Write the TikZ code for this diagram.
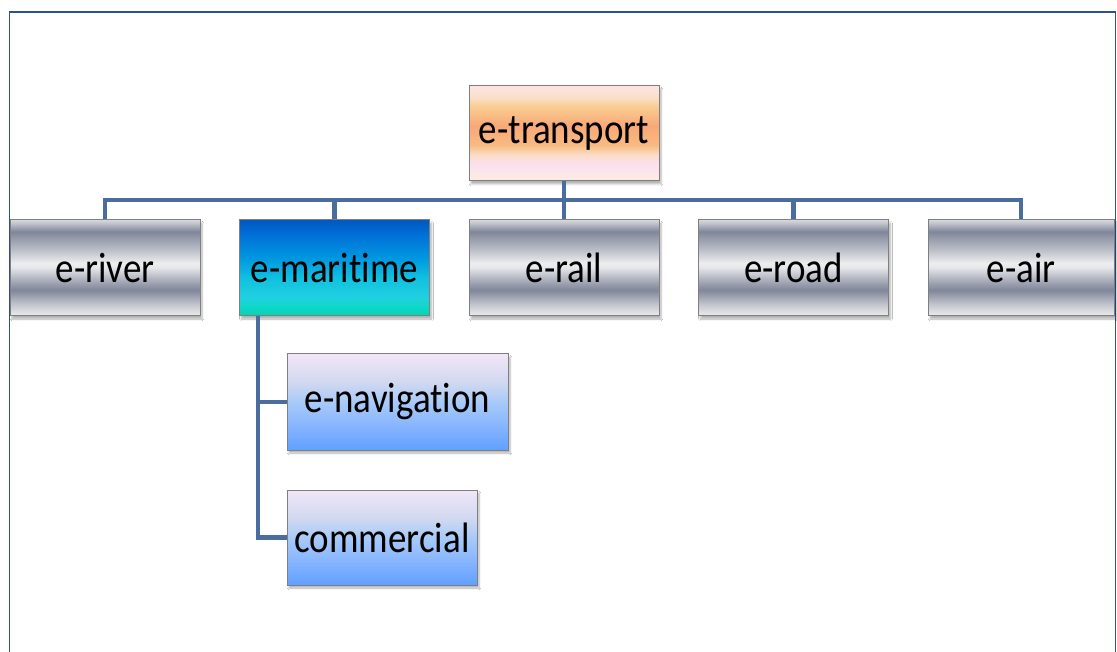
\documentclass[tikz,border=0pt]{standalone}
\usepackage{graphicx}
\usepackage{fontspec}
\setmainfont{Carlito}[Ligatures=NoCommon]
\usetikzlibrary{shadows.blur}
\definecolor{mA}{HTML}{EDEDEF}
\definecolor{mB}{HTML}{C4C6CE}
\definecolor{mC}{HTML}{80879A}
\definecolor{mD}{HTML}{A0A4B2}
\definecolor{mE}{HTML}{E4E5E9}
\definecolor{mF}{HTML}{EEEEF0}
\definecolor{mG}{HTML}{B8BBC5}
\definecolor{mH}{HTML}{D6D7DC}
\definecolor{sA}{HTML}{00D4B0}
\definecolor{sB}{HTML}{10D8C8}
\definecolor{sC}{HTML}{20D0E0}
\definecolor{sD}{HTML}{10C0E0}
\definecolor{sE}{HTML}{0098E0}
\definecolor{sF}{HTML}{0070D8}
\definecolor{sG}{HTML}{0058C0}
\definecolor{pA}{HTML}{FCECE0}
\definecolor{pB}{HTML}{FBE0F0}
\definecolor{pC}{HTML}{FADCC4}
\definecolor{pD}{HTML}{F9BA80}
\definecolor{pE}{HTML}{F8A878}
\definecolor{pF}{HTML}{F9CC90}
\definecolor{pG}{HTML}{FAE0C8}
\definecolor{pH}{HTML}{FDE4E2}
\definecolor{bA}{HTML}{60A0FF}
\definecolor{bB}{HTML}{80B0FF}
\definecolor{bC}{HTML}{A8CAF8}
\definecolor{bD}{HTML}{D0D8F0}
\definecolor{bE}{HTML}{F2E6F6}
\definecolor{framecol}{HTML}{2F5090}
\definecolor{conncol}{HTML}{4A6DA0}
\definecolor{edgecol}{HTML}{7F7F7F}
% shadings: 25bp = bottom, 75bp = top of the shaded box
\pgfdeclareverticalshading{metal}{100bp}{%
 color(0bp)=(mA); color(25bp)=(mA); color(31bp)=(mB); color(38.5bp)=(mC);
 color(42.5bp)=(mD); color(50bp)=(mE); color(52.5bp)=(mF); color(60bp)=(mG);
 color(69bp)=(mC); color(73.5bp)=(mB); color(75bp)=(mH); color(100bp)=(mH)}
\pgfdeclareverticalshading{seablue}{100bp}{%
 color(0bp)=(sA); color(25bp)=(sA); color(30bp)=(sB); color(35bp)=(sC);
 color(45bp)=(sD); color(55bp)=(sE); color(67.5bp)=(sF); color(75bp)=(sG); color(100bp)=(sG)}
\pgfdeclareverticalshading{peach}{100bp}{%
 color(0bp)=(pA); color(25bp)=(pA); color(34bp)=(pB); color(39bp)=(pC);
 color(44bp)=(pD); color(54bp)=(pE); color(64bp)=(pF); color(69bp)=(pG); color(75bp)=(pH); color(100bp)=(pH)}
\pgfdeclareverticalshading{skyblue}{100bp}{%
 color(0bp)=(bA); color(25bp)=(bA); color(35bp)=(bB); color(50bp)=(bC);
 color(60bp)=(bD); color(75bp)=(bE); color(100bp)=(bE)}
\newcommand\tallText[1]{\scalebox{1}[1.15]{#1}}
\tikzset{
  box/.style={rectangle, draw=edgecol, line width=1pt, inner sep=0pt,
    minimum width=190pt, minimum height=96pt,
    font=\fontsize{37}{44}\selectfont, text=black,
    blur shadow={shadow xshift=2pt, shadow yshift=-3pt, shadow blur steps=6, shadow opacity=30}},
  metalbox/.style={box, shading=metal},
  seabox/.style={box, shading=seablue},
  peachbox/.style={box, shading=peach},
  skybox/.style={box, shading=skyblue},
  conn/.style={draw=conncol, line width=4.5pt, line join=miter, line cap=butt}
}
\begin{document}
\begin{tikzpicture}[x=1pt, y=-1pt]
\useasboundingbox (0,0) rectangle (1117,652);
\fill[white] (0,0) rectangle (1117,652);
\draw[framecol, line width=1.3pt] (9.5,652) -- (9.5,12) -- (1115.5,12) -- (1115.5,652);
% nodes
\node[peachbox, minimum height=95pt] (trans) at (564,133.5) {\tallText{e-transport}};
\node[metalbox] (river) at (105,268) {\tallText{e-river}};
\node[seabox] (mari) at (334.5,268) {\tallText{e-maritime}};
\node[metalbox] (rail) at (564,268) {\tallText{e-rail}};
\node[metalbox] (road) at (793.5,268) {\tallText{e-road}};
\node[metalbox, minimum width=186pt] (air) at (1021,268) {\tallText{e-air}};
\node[skybox, minimum width=221pt] (enav) at (397.5,402) {\tallText{e-navigation}};
\node[skybox, minimum height=95pt] (comm) at (382,537.5) {\tallText{commercial}};
% connectors
\coordinate (bar) at (0,200);
\coordinate (trunk) at (258,0);
\draw[conn] (river.north) -- (river.north |- bar) -- (air.north |- bar) -- (air.north);
\draw[conn] (trans.south) -- (rail.north);
\draw[conn] (mari.north |- bar) -- (mari.north);
\draw[conn] (road.north |- bar) -- (road.north);
\draw[conn] (mari.south -| trunk) -- (trunk |- comm.west) -- (comm.west);
\draw[conn] (trunk |- enav.west) -- (enav.west);
\end{tikzpicture}
\end{document}
